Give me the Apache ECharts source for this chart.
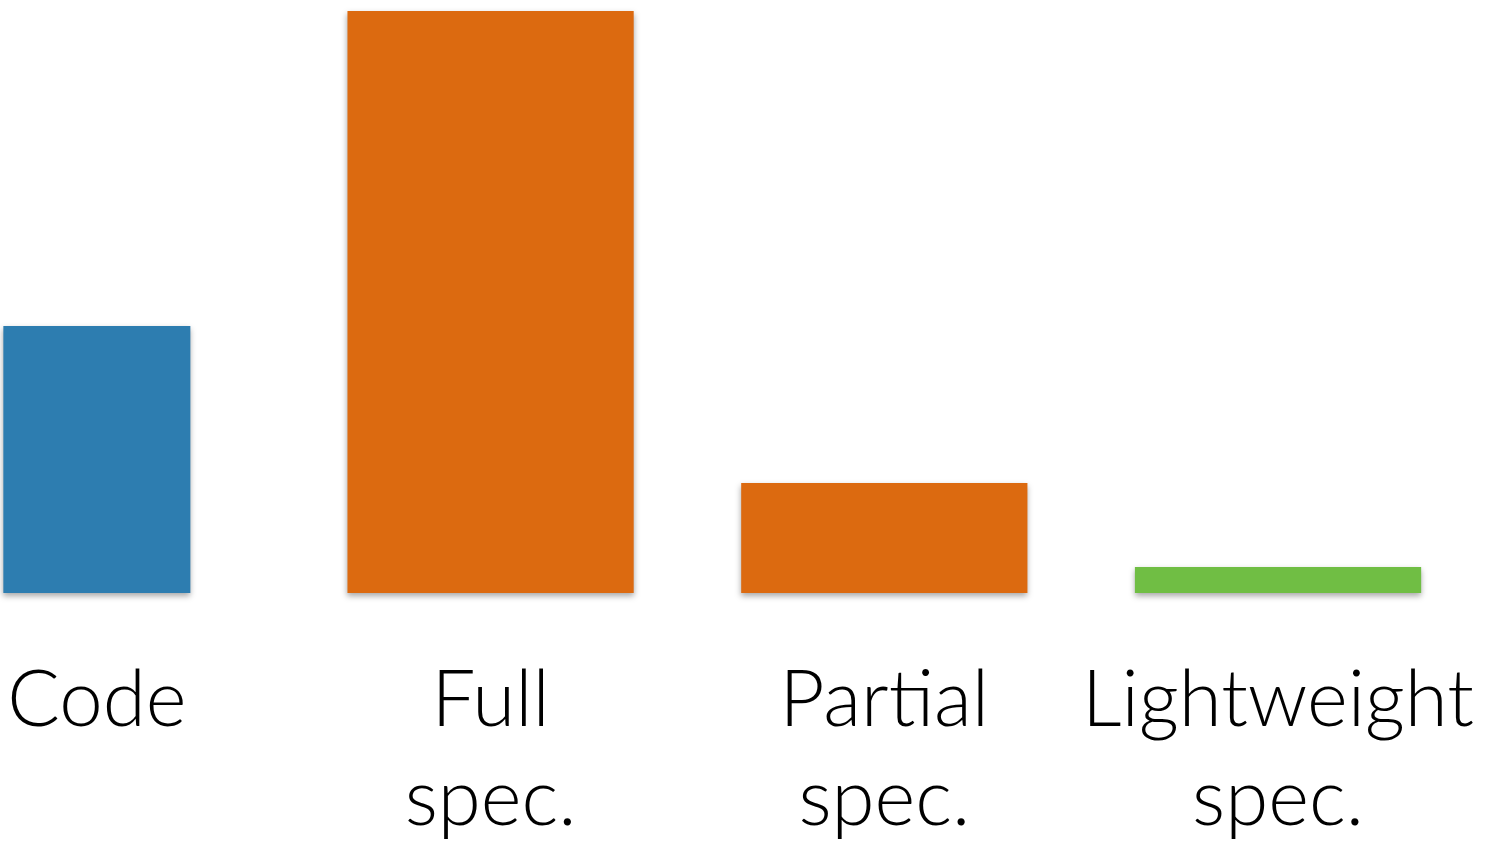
<!DOCTYPE html>
<html>
<head>
<meta charset="utf-8">
<script src="https://cdn.jsdelivr.net/npm/echarts@6/dist/echarts.min.js"></script>
<style>
  html, body { margin: 0; padding: 0; background: #fff; }
  #chart { width: 1493px; height: 845px; }
</style>
</head>
<body>
<div id="chart"></div>
<script>
'use strict'

// categories and bar heights (arbitrary units)
const categories = ['Code', 'Full\nspec.', 'Partial\nspec.', 'Lightweight\nspec.']
const values = [267, 582, 110, 26]

const barColors = ['#2d7db0', '#dc6a10', '#dc6a10', '#70be44']
// bar width as share of one category step
const barShare = [0.475, 0.727, 0.727, 0.727]

const chart = echarts.init(document.getElementById('chart'))

function renderBar (params, api) {
  const i = api.value(0)
  const top = api.coord([i, api.value(1)])
  const base = api.coord([i, 0])
  const step = api.size([1, 0])[0]
  const w = step * barShare[i]
  return {
    type: 'group',
    children: [{
      type: 'rect',
      shape: { x: top[0] - w / 2, y: top[1], width: w, height: base[1] - top[1] },
      style: {
        fill: barColors[i],
        shadowColor: 'rgba(0,0,0,0.35)',
        shadowBlur: 6,
        shadowOffsetY: 3
      }
    }, {
      type: 'text',
      style: {
        text: categories[i],
        x: base[0],
        y: base[1] + 58,
        align: 'center',
        verticalAlign: 'top',
        fill: '#000',
        fontFamily: 'Lato',
        fontWeight: 300,
        fontSize: 78,
        lineHeight: 99
      }
    }]
  }
}

const option = {
  backgroundColor: '#fff',
  animation: false,
  grid: {
    left: 0,
    right: 0,
    top: 10,
    bottom: 252
  },
  xAxis: {
    type: 'value',
    min: -0.246,
    max: 3.546,
    show: false
  },
  yAxis: {
    type: 'value',
    min: 0,
    max: 583,
    show: false
  },
  series: [{
    type: 'custom',
    renderItem: renderBar,
    clip: false,
    data: values.map((v, i) => [i, v]),
    encode: { x: 0, y: 1 }
  }]
}

chart.setOption(option)
</script>
</body>
</html>
